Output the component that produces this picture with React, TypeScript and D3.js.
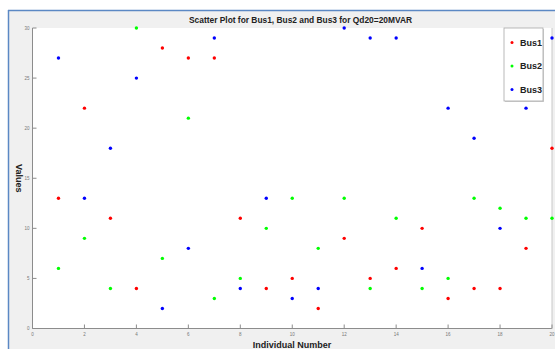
import React from "react";
import { scaleLinear, range } from "d3";

const width = 555;
const height = 349;

const individuals = range(1, 21);
const bus1 = [13, 22, 11, 4, 28, 27, 27, 11, 4, 5, 2, 9, 5, 6, 10, 3, 4, 4, 8, 18];
const bus2 = [6, 9, 4, 30, 7, 21, 3, 5, 10, 13, 8, 13, 4, 11, 4, 5, 13, 12, 11, 11];
const bus3 = [27, 13, 18, 25, 2, 8, 29, 4, 13, 3, 4, 30, 29, 29, 6, 22, 19, 10, 22, 29];
const xTicks = [0, 2, 4, 6, 8, 10, 12, 14, 16, 18, 20];
const yTicks = [0, 5, 10, 15, 20, 25, 30];

const series = [
  { name: "Bus1", values: bus1, color: "#ff0000" },
  { name: "Bus2", values: bus2, color: "#00ff00" },
  { name: "Bus3", values: bus3, color: "#0000ff" },
];

const plotLeft = 32.5;
const plotRight = 552;
const plotTop = 28;
const plotBottom = 328.5;

const x = scaleLinear().domain([0, 20]).range([plotLeft, plotRight]);
const y = scaleLinear().domain([0, 30]).range([plotBottom, plotTop]);

const axisColor = "#8c8c8c";
const font = "'Liberation Sans', Arial, sans-serif";

const App = () => (
  <svg
    width={width}
    height={height}
    style={{ position: "absolute", left: 0, top: 0 }}
    fontFamily={font}
  >
    <rect width={width} height={height} fill="#ffffff" />
    <rect x={8} y={10} width={width - 8} height={height - 10} fill="#f0f0f0" />
    <line x1={8.5} x2={8.5} y1={10} y2={height} stroke="#5b88c4" strokeWidth={1.5} />
    <line x1={8} x2={width} y1={10.5} y2={10.5} stroke="#5b88c4" strokeWidth={1.5} />

    <rect
      x={plotLeft}
      y={plotTop}
      width={plotRight - plotLeft}
      height={plotBottom - plotTop}
      fill="#ffffff"
    />
    <line x1={plotLeft} x2={plotLeft} y1={plotTop} y2={plotBottom} stroke={axisColor} />
    <line x1={plotLeft} x2={plotRight} y1={plotBottom} y2={plotBottom} stroke={axisColor} />
    <line x1={plotRight} x2={plotRight} y1={plotTop} y2={plotBottom} stroke="#c8c8c8" />

    {xTicks.map((t) => (
      <g key={`x${t}`}>
        <line x1={x(t)} x2={x(t)} y1={plotBottom} y2={plotBottom - 4} stroke={axisColor} />
        <text
          x={x(t)}
          y={plotBottom + 7}
          fontSize={4.5}
          fill="#777"
          textAnchor="middle"
        >
          {t}
        </text>
      </g>
    ))}
    {yTicks.map((t) => (
      <g key={`y${t}`}>
        <line x1={plotLeft} x2={plotLeft + 4} y1={y(t)} y2={y(t)} stroke={axisColor} />
        <text
          x={plotLeft - 3}
          y={y(t) + 1.5}
          fontSize={4.5}
          fill="#777"
          textAnchor="end"
        >
          {t}
        </text>
      </g>
    ))}

    {series.map((s) =>
      s.values.map((v, i) => (
        <circle
          key={`${s.name}${i}`}
          cx={x(individuals[i])}
          cy={y(v)}
          r={1.7}
          fill={s.color}
        />
      ))
    )}

    <text
      x={300.5}
      y={22.8}
      fontSize={8.4}
      fontWeight="bold"
      fill="#222"
      textAnchor="middle"
    >
      Scatter Plot for Bus1, Bus2 and Bus3 for Qd20=20MVAR
    </text>
    <text
      x={292}
      y={348}
      fontSize={9}
      fontWeight="bold"
      fill="#222"
      textAnchor="middle"
    >
      Individual Number
    </text>
    <text
      transform={`translate(16, ${(plotTop + plotBottom) / 2}) rotate(90)`}
      fontSize={9}
      fontWeight="bold"
      fill="#222"
      textAnchor="middle"
    >
      Values
    </text>

    <g transform="translate(504, 28)">
      <rect x={1} y={1} width={39} height={73} fill="#d0d0d0" />
      <rect width={39} height={73} fill="#ffffff" stroke="#a8a8a8" strokeWidth={0.8} />
      {series.map((s, i) => (
        <g key={s.name} transform={`translate(0, ${14.5 + i * 23.5})`}>
          <circle cx={8} cy={0} r={1.5} fill={s.color} />
          <text x={16} y={3.3} fontSize={9} fontWeight="bold" fill="#222">
            {s.name}
          </text>
        </g>
      ))}
    </g>
  </svg>
);

export default App;
